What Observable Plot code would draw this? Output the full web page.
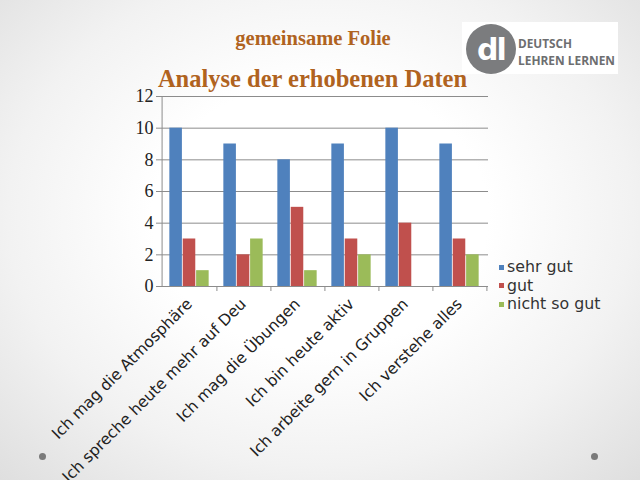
<!DOCTYPE html>
<html>
<head>
<meta charset="utf-8">
<script src="https://cdn.jsdelivr.net/npm/d3@7"></script>
<script src="https://cdn.jsdelivr.net/npm/@observablehq/plot@0.6"></script>
<style>
  html, body { margin: 0; padding: 0; }
  body {
    width: 640px; height: 480px; position: relative; overflow: hidden;
    background: radial-gradient(ellipse 75% 80% at 50% 45%, #ffffff 35%, #f2f2f2 65%, #dcdcdc 100%);
  }
  #chart { position: absolute; left: 0; top: 0; }
  .t1 { position: absolute; left: 0; width: 626px; top: 27px; text-align: center; z-index: 2;
        font: bold 20.5px "Liberation Serif", "DejaVu Serif", serif; color: #B0631F; }
  .t2 { position: absolute; left: 0; width: 625px; top: 65px; text-align: center; z-index: 2;
        font: bold 24.5px "Liberation Serif", "DejaVu Serif", serif; color: #B0631F; }
  .logo { position: absolute; left: 462px; top: 22px; width: 156px; height: 52px; background: #fff; z-index: 1; }
  .legend { position: absolute; left: 499px; top: 258px; font: 15.8px "DejaVu Sans", Verdana, sans-serif; color: #333; }
  .legend div { height: 18.5px; line-height: 18.5px; display: flex; align-items: center; }
  .legend span.sw { display: inline-block; width: 5px; height: 5px; margin-right: 3px; }
  .dot { position: absolute; width: 7px; height: 7px; border-radius: 50%; background: #7a7a7a; }
</style>
</head>
<body>
<div id="chart"></div>
<div class="logo">
  <svg width="156" height="52">
    <circle cx="29" cy="27" r="25" fill="#7b7c7e"></circle>
    <text x="29" y="38" text-anchor="middle" fill="#fff" font-family="DejaVu Sans, sans-serif" font-weight="bold" font-size="30" letter-spacing="-2">dl</text>
    <text x="56" y="26" fill="#6d6e70" font-family="Open Sans, DejaVu Sans, sans-serif" font-weight="bold" font-size="12" textLength="54" lengthAdjust="spacingAndGlyphs">DEUTSCH</text>
    <text x="56" y="43" fill="#6d6e70" font-family="Open Sans, DejaVu Sans, sans-serif" font-weight="bold" font-size="12" textLength="97" lengthAdjust="spacingAndGlyphs">LEHREN LERNEN</text>
  </svg>
</div>
<div class="t1">gemeinsame Folie</div>
<div class="t2">Analyse der erhobenen Daten</div>
<div class="legend" id="legend"></div>
<div class="dot" style="left:39px; top:453px;"></div>
<div class="dot" style="left:591px; top:453px;"></div>
<script>
const categories = [
  "Ich mag die Atmosphäre",
  "Ich spreche heute mehr auf Deu",
  "Ich mag die Übungen",
  "Ich bin heute aktiv",
  "Ich arbeite gern in Gruppen",
  "Ich verstehe alles"
];
const seriesNames = ["sehr gut", "gut", "nicht so gut"];
const sehrGut = [10, 9, 8, 9, 10, 9];
const gut = [3, 2, 5, 3, 4, 3];
const nichtSoGut = [1, 3, 1, 2, 0, 2];
const colors = ["#4F81BD", "#C0504D", "#9BBB59"];
const yTicks = [0, 2, 4, 6, 8, 10, 12];

const seriesValues = [sehrGut, gut, nichtSoGut];

const width = 640, height = 480;
const marginLeft = 159, marginRight = 152, marginTop = 96, marginBottom = 194;
const plotH = height - marginTop - marginBottom;
const step = (width - marginLeft - marginRight) / categories.length;
const halfGap = step * 0.134;
const barW = (step - 2 * halfGap) / 3;

const barMarks = seriesNames.map((name, i) => {
  const rows = categories.map((c, j) => ({cat: c, value: seriesValues[i][j], series: name}));
  return Plot.barY(rows, {
    x: "cat", y: "value", fill: colors[i],
    insetLeft: halfGap + i * barW,
    insetRight: step - halfGap - (i + 1) * barW
  });
});

const plot = Plot.plot({
  width, height, marginLeft, marginRight, marginTop, marginBottom,
  style: {background: "transparent", overflow: "visible"},
  x: {type: "band", domain: categories, padding: 0, label: null},
  y: {type: "linear", domain: [0, 12], label: null},
  marks: [
    Plot.ruleY(yTicks.filter(d => d > 0), {stroke: "#8c8c8c", strokeWidth: 1}),
    ...barMarks,
    Plot.ruleY([0], {stroke: "#8c8c8c", strokeWidth: 1.2}),
    Plot.ruleX([categories[0]], {x: d => d, dx: -step / 2, stroke: "#8c8c8c"}),
    Plot.ruleX(categories, {x: d => d, dx: step / 2, stroke: "#8c8c8c", insetTop: plotH, insetBottom: -5}),
    Plot.axisY({ticks: yTicks, tickSize: 3, tickPadding: 3, stroke: "#8c8c8c", fontSize: 18,
      fontFamily: "Liberation Serif, DejaVu Serif, serif", color: "#222"}),
    Plot.axisX({tickRotate: -45, tickSize: 0, tickPadding: 15, fontSize: 15.6,
      fontFamily: "DejaVu Sans, Verdana, sans-serif", color: "#222", label: null})
  ]
});
document.getElementById("chart").appendChild(plot);

const legend = document.getElementById("legend");
seriesNames.forEach((name, i) => {
  const row = document.createElement("div");
  const sw = document.createElement("span");
  sw.className = "sw";
  sw.style.background = colors[i];
  row.appendChild(sw);
  row.appendChild(document.createTextNode(name));
  legend.appendChild(row);
});
</script>
</body>
</html>
